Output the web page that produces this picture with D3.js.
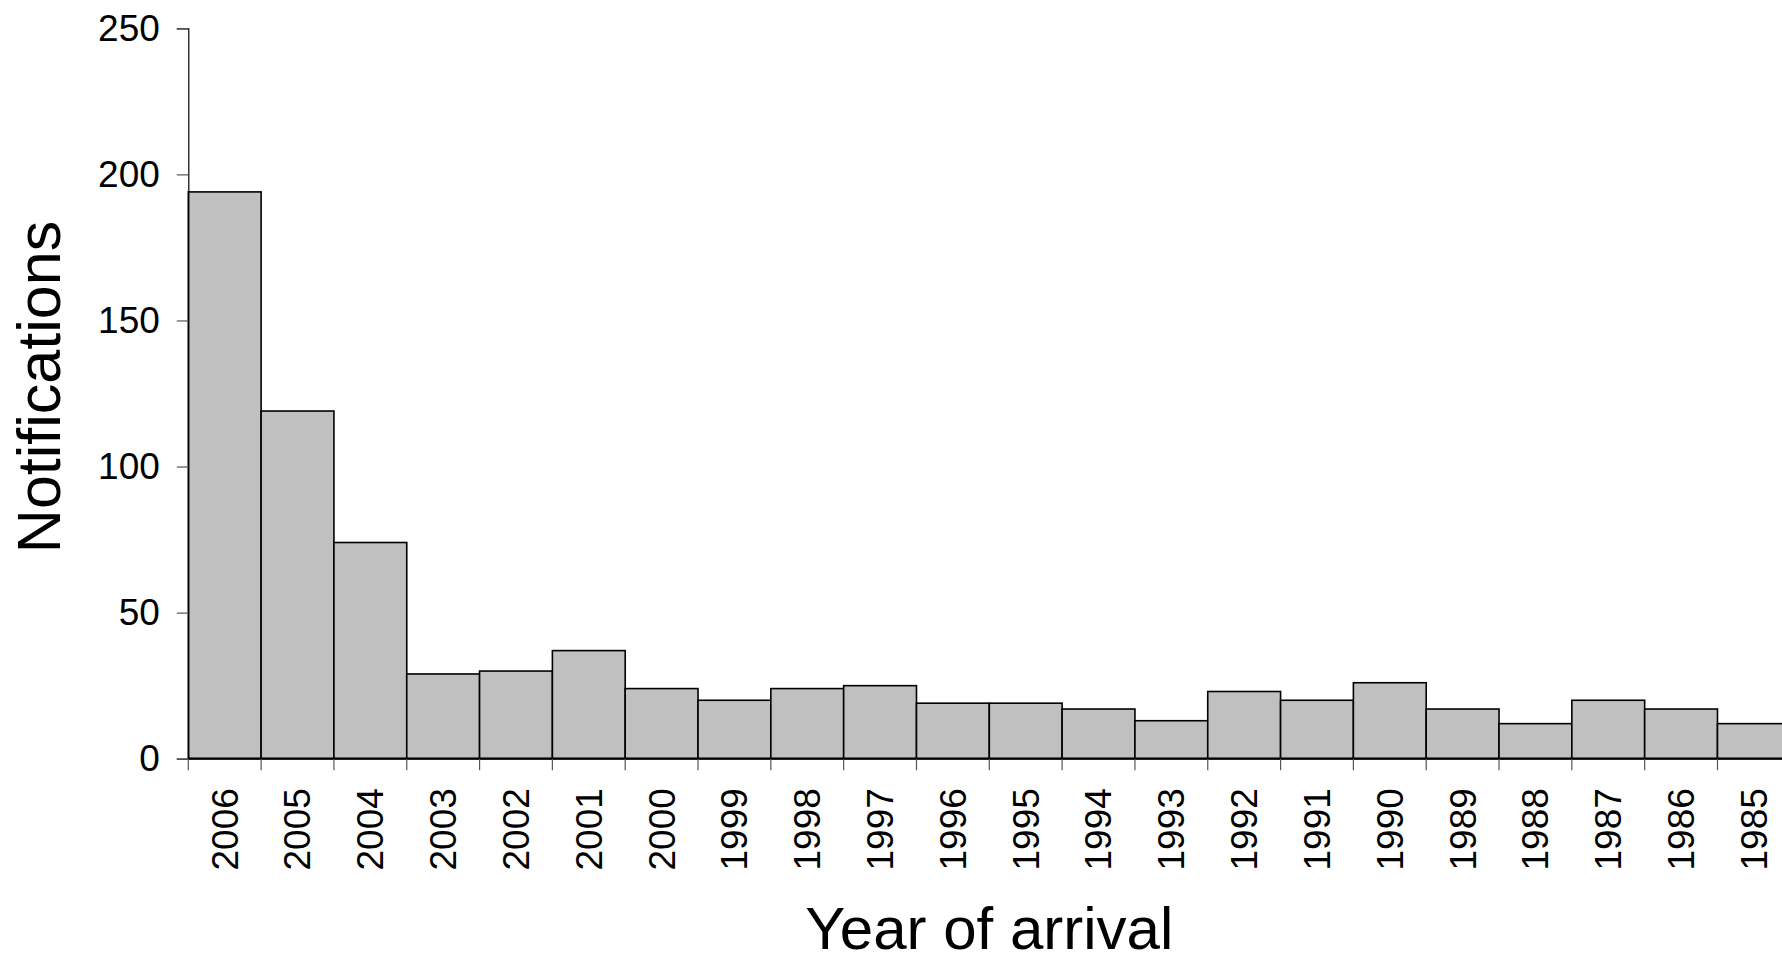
<!DOCTYPE html>
<html>
<head>
<meta charset="utf-8">
<script src="https://cdn.jsdelivr.net/npm/d3@7"></script>
<style>
  html, body { margin: 0; padding: 0; background: #fff; overflow: hidden; }
  svg { display: block; }
  text { font-family: "Liberation Sans", Arial, sans-serif; fill: #000; }
</style>
</head>
<body>
<svg id="chart" width="1782" height="954"></svg>
<script>
const years = ["2006","2005","2004","2003","2002","2001","2000","1999","1998","1997","1996","1995","1994","1993","1992","1991","1990","1989","1988","1987","1986","1985"];
const notifications = [194,119,74,29,30,37,24,20,24,25,19,19,17,13,23,20,26,17,12,20,17,12];
const yTicks = [0,50,100,150,200,250];
const xTitle = "Year of arrival";
const yTitle = "Notifications";

const svg = d3.select("#chart");
const mLeft = 188.3, mRight = 1790.3, mTop = 28.3, mBottom = 758.7;

const x = d3.scaleBand().domain(years).range([mLeft, mRight]).padding(0);
const y = d3.scaleLinear().domain([0, 250]).range([mBottom, mTop]);

// bars
svg.append("g").selectAll("rect").data(years).join("rect")
  .attr("x", d => x(d))
  .attr("y", (d, i) => y(notifications[i]))
  .attr("width", x.bandwidth())
  .attr("height", (d, i) => y(0) - y(notifications[i]))
  .attr("fill", "#c0c0c0")
  .attr("stroke", "#000")
  .attr("stroke-width", 1.6);

// y axis
const yAxis = svg.append("g").attr("transform", `translate(${mLeft},0)`)
  .call(d3.axisLeft(y).tickValues(yTicks).tickSize(11.5).tickPadding(17).tickFormat(d3.format("d")));
yAxis.select(".domain").attr("stroke", "#000").attr("stroke-width", 1.2);
yAxis.selectAll(".tick line").attr("stroke", "#555").attr("stroke-width", 1.2);
yAxis.selectAll(".tick text").style("font-size", "37px").attr("fill", "#000")
  .style("font-family", "'Liberation Sans', Arial, sans-serif");

// x axis: ticks at band edges
const edges = years.map(d => x(d)).concat([mRight]);
const xg = svg.append("g");
xg.append("line")
  .attr("x1", mLeft).attr("x2", mRight)
  .attr("y1", mBottom).attr("y2", mBottom)
  .attr("stroke", "#000").attr("stroke-width", 2.2);
xg.selectAll("line.tk").data(edges).join("line")
  .attr("class", "tk")
  .attr("x1", d => d).attr("x2", d => d)
  .attr("y1", mBottom).attr("y2", mBottom + 11.5)
  .attr("stroke", "#555").attr("stroke-width", 1.2);
xg.selectAll("text.lbl").data(years).join("text")
  .attr("class", "lbl")
  .attr("transform", d => `translate(${x(d) + x.bandwidth() / 2}, ${mBottom + 29.5}) rotate(-90)`)
  .attr("text-anchor", "end")
  .attr("dy", "0.35em")
  .style("font-size", "37px")
  .text(d => d);

// titles
svg.append("text")
  .attr("x", (mLeft + mRight) / 2)
  .attr("y", 949)
  .attr("text-anchor", "middle")
  .style("font-size", "60px")
  .text(xTitle);

svg.append("text")
  .attr("transform", "translate(60, 387) rotate(-90)")
  .attr("text-anchor", "middle")
  .style("font-size", "61px")
  .text(yTitle);
</script>
</body>
</html>
